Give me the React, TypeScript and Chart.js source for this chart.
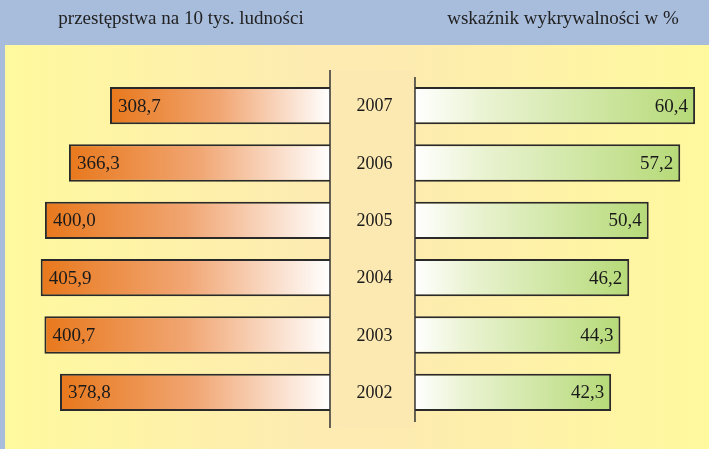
import React, { useEffect, useRef } from "react";
import { Chart, registerables } from "chart.js";

Chart.register(...registerables);

const years = ["2007", "2006", "2005", "2004", "2003", "2002"];
const crimesPer10k = [308.7, 366.3, 400.0, 405.9, 400.7, 378.8];
const detectionRate = [60.4, 57.2, 50.4, 46.2, 44.3, 42.3];
const leftHeader = "przestępstwa na 10 tys. ludności";
const rightHeader = "wskaźnik wykrywalności w %";

const fmt = (v: number) => v.toFixed(1).replace(".", ",");

const FONT = "'Liberation Serif'";

const bgPlugin = {
  id: "bgPlugin",
  beforeDraw(chart: any) {
    const { ctx, width, height } = chart;
    ctx.save();
    ctx.fillStyle = "#a8bcdc";
    ctx.fillRect(0, 0, width, height);
    const g = ctx.createLinearGradient(5, 0, width, 0);
    g.addColorStop(0, "#fff99e");
    g.addColorStop(0.45, "#fdebb2");
    g.addColorStop(0.55, "#fdebb0");
    g.addColorStop(1, "#fff99e");
    ctx.fillStyle = g;
    ctx.fillRect(5, 45, width - 5, height - 45);
    const zl = chart.scales.xL.getPixelForValue(0);
    const zr = chart.scales.xR.getPixelForValue(0);
    ctx.fillStyle = "rgba(250,225,185,0.2)";
    ctx.fillRect(zl, 70, zr - zl, 358);
    ctx.fillStyle = "#222";
    ctx.font = `19px ${FONT}`;
    ctx.textBaseline = "middle";
    ctx.textAlign = "center";
    ctx.fillText(leftHeader, 181, 19);
    ctx.fillText(rightHeader, 563, 19);
    ctx.restore();
  },
  afterDatasetsDraw(chart: any) {
    const { ctx } = chart;
    const zl = chart.scales.xL.getPixelForValue(0);
    const zr = chart.scales.xR.getPixelForValue(0);
    ctx.save();
    ctx.strokeStyle = "#333";
    ctx.lineWidth = 1.5;
    ctx.beginPath();
    ctx.moveTo(zl, 70);
    ctx.lineTo(zl, 428);
    ctx.moveTo(zr, 77);
    ctx.lineTo(zr, 422);
    ctx.stroke();
    ctx.fillStyle = "#1a1a1a";
    ctx.textBaseline = "middle";
    const m0 = chart.getDatasetMeta(0);
    const m1 = chart.getDatasetMeta(1);
    m0.data.forEach((el: any, i: number) => {
      ctx.font = `19px ${FONT}`;
      ctx.textAlign = "left";
      ctx.fillText(fmt(crimesPer10k[i]), el.x + 8, el.y + 1);
      ctx.font = `18px ${FONT}`;
      ctx.textAlign = "center";
      ctx.fillText(years[i], (zl + zr) / 2 + 2, el.y + 1);
    });
    ctx.font = `19px ${FONT}`;
    m1.data.forEach((el: any, i: number) => {
      ctx.textAlign = "right";
      ctx.fillText(fmt(detectionRate[i]), el.x - 7, el.y + 1);
    });
    ctx.restore();
  },
};

export default function App() {
  const ref = useRef<HTMLCanvasElement>(null);
  useEffect(() => {
    document.body.style.margin = "0";
    const canvas = ref.current!;
    const orange = (c: any) => {
      const chart = c.chart;
      if (!chart.chartArea || c.raw === undefined) return "#e87a1e";
      const s = chart.scales.xL;
      const x0 = s.getPixelForValue(c.raw);
      const x1 = s.getPixelForValue(0);
      const g = chart.ctx.createLinearGradient(x0, 0, x1, 0);
      g.addColorStop(0, "#e8781c");
      g.addColorStop(0.5, "#f1a673");
      g.addColorStop(1, "#ffffff");
      return g;
    };
    const green = (c: any) => {
      const chart = c.chart;
      if (!chart.chartArea || c.raw === undefined) return "#b5d97a";
      const s = chart.scales.xR;
      const x0 = s.getPixelForValue(0);
      const x1 = s.getPixelForValue(c.raw);
      const g = chart.ctx.createLinearGradient(x0, 0, x1, 0);
      g.addColorStop(0, "#ffffff");
      g.addColorStop(0.25, "#eaf3d2");
      g.addColorStop(1, "#b6da78");
      return g;
    };
    const chart = new Chart(canvas, {
      type: "bar",
      data: {
        labels: years,
        datasets: [
          {
            data: crimesPer10k,
            xAxisID: "xL",
            backgroundColor: orange,
            borderColor: "#2a2a2a",
            borderWidth: 2,
            grouped: false,
            barPercentage: 0.65,
            categoryPercentage: 1,
          },
          {
            data: detectionRate,
            xAxisID: "xR",
            backgroundColor: green,
            borderColor: "#2a2a2a",
            borderWidth: 2,
            grouped: false,
            barPercentage: 0.65,
            categoryPercentage: 1,
          },
        ],
      },
      options: {
        indexAxis: "y",
        responsive: false,
        animation: false,
        layout: { padding: { left: 5, top: 77, bottom: 28, right: 0 } },
        plugins: { legend: { display: false }, tooltip: { enabled: false } },
        scales: {
          y: { display: false },
          xL: {
            type: "linear",
            display: false,
            reverse: true,
            min: -531.8,
            max: 456.0,
          },
          xR: {
            type: "linear",
            display: false,
            min: -88.4,
            max: 63.4,
          },
        },
      } as any,
      plugins: [bgPlugin],
    });
    return () => chart.destroy();
  }, []);
  return (
    <div style={{ width: 709, height: 449 }}>
      <canvas ref={ref} width={709} height={449} style={{ display: "block" }} />
    </div>
  );
}
